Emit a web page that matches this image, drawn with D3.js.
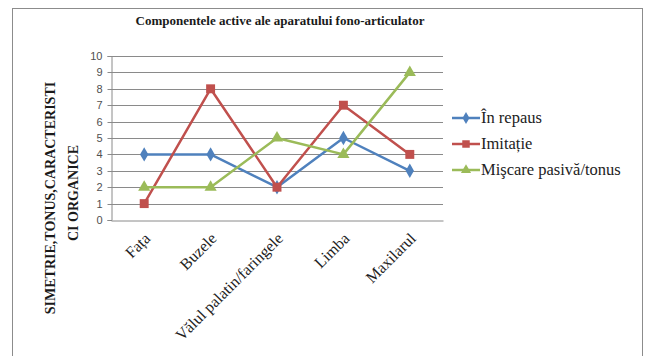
<!DOCTYPE html>
<html>
<head>
<meta charset="utf-8">
<script src="https://cdn.jsdelivr.net/npm/d3@7"></script>
<style>
  html, body { margin: 0; padding: 0; background: #fff; }
  svg { display: block; }
</style>
</head>
<body>
<svg id="chart" width="646" height="356"></svg>
<script>
// Categories (articulatory components) and series scores
const categories = ["Fața", "Buzele", "Vălul palatin/faringele", "Limba", "Maxilarul"];
const seriesNames = ["În repaus", "Imitație", "Mişcare pasivă/tonus"];
const inRepaus = [4, 4, 2, 5, 3];
const imitatie = [1, 8, 2, 7, 4];
const miscarePasiva = [2, 2, 5, 4, 9];
const yTicks = [0, 1, 2, 3, 4, 5, 6, 7, 8, 9, 10];
const seriesColors = ["#4F81BD", "#C0504D", "#9BBB59"];
const seriesSymbols = [d3.symbolDiamond, d3.symbolSquare, d3.symbolTriangle];

const series = [inRepaus, imitatie, miscarePasiva].map((values, i) => ({
  name: seriesNames[i], values, color: seriesColors[i], symbol: seriesSymbols[i]
}));

const svg = d3.select("#chart");
const serif = "'Liberation Serif', 'Times New Roman', serif";
const sans = "'Liberation Sans', Arial, sans-serif";

// outer frame
svg.append("rect")
  .attr("x", 12.5).attr("y", 8.5).attr("width", 630).attr("height", 360)
  .attr("fill", "#fff").attr("stroke", "#8c8c8c").attr("stroke-width", 1);

const plot = { left: 111, top: 56, right: 443, bottom: 220 };

const x = d3.scaleBand().domain(categories).range([plot.left, plot.right]).padding(0);
const y = d3.scaleLinear().domain([0, 10]).range([plot.bottom, plot.top]);

// title
svg.append("text")
  .attr("x", 280).attr("y", 25)
  .attr("text-anchor", "middle")
  .attr("font-family", serif).attr("font-weight", "bold").attr("font-size", 13)
  .attr("fill", "#1a1a1a")
  .text("Componentele active ale aparatului fono-articulator");

// horizontal gridlines
svg.append("g")
  .selectAll("line")
  .data(yTicks.filter(t => t > 0))
  .join("line")
  .attr("x1", plot.left).attr("x2", plot.right)
  .attr("y1", d => Math.round(y(d)) + 0.5).attr("y2", d => Math.round(y(d)) + 0.5)
  .attr("stroke", "#8a8a8a").attr("stroke-width", 1);

// y axis
const yAxis = svg.append("g")
  .attr("transform", `translate(${plot.left + 0.5},0)`)
  .call(d3.axisLeft(y).tickValues(yTicks).tickSize(4).tickPadding(5).tickFormat(d3.format("d")));
yAxis.select(".domain").attr("stroke", "#8a8a8a");
yAxis.selectAll(".tick line").attr("stroke", "#8a8a8a");
yAxis.selectAll(".tick text")
  .attr("font-family", sans).attr("font-size", 11).attr("fill", "#505050");
yAxis.selectAll(".tick").attr("transform", d => `translate(0,${Math.round(y(d)) + 0.5})`);

// x axis
const xAxis = svg.append("g")
  .attr("transform", `translate(0,${plot.bottom + 0.5})`)
  .call(d3.axisBottom(x).tickSize(0).tickPadding(0));
xAxis.select(".domain").attr("stroke", "#8a8a8a");
xAxis.selectAll(".tick text")
  .attr("font-family", serif).attr("font-size", 16).attr("fill", "#222")
  .attr("text-anchor", "end")
  .attr("dy", 0)
  .attr("transform", "translate(7,19) rotate(-45)");

// y axis title (two lines, rotated)
const yTitle = svg.append("text")
  .attr("transform", "translate(0,198) rotate(-90)")
  .attr("text-anchor", "middle")
  .attr("font-family", serif).attr("font-weight", "bold").attr("font-size", 14)
  .attr("fill", "#1a1a1a");
yTitle.append("tspan").attr("x", 0).attr("y", 55).text("SIMETRIE,TONUS,CARACTERISTI");
yTitle.append("tspan").attr("x", 5).attr("y", 78).text("CI ORGANICE");

// lines and markers
const line = d3.line()
  .x((d, i) => x(categories[i]) + x.bandwidth() / 2)
  .y(d => y(d));

const markerSize = [60, 80, 64];

series.forEach((s, si) => {
  svg.append("path")
    .datum(s.values)
    .attr("d", line)
    .attr("fill", "none")
    .attr("stroke", s.color)
    .attr("stroke-width", 2.5)
    .attr("stroke-linejoin", "round");
  svg.append("g")
    .selectAll("path")
    .data(s.values)
    .join("path")
    .attr("transform", (d, i) => `translate(${x(categories[i]) + x.bandwidth() / 2},${y(d)})`)
    .attr("d", d3.symbol().type(s.symbol).size(markerSize[si]))
    .attr("fill", s.color);
});

// legend
const legend = svg.append("g").attr("transform", "translate(452,118)");
series.forEach((s, i) => {
  const g = legend.append("g").attr("transform", `translate(0,${i * 26})`);
  g.append("line").attr("x1", 0).attr("x2", 28).attr("y1", 0).attr("y2", 0)
    .attr("stroke", s.color).attr("stroke-width", 2.5);
  g.append("path").attr("transform", "translate(14,0)")
    .attr("d", d3.symbol().type(s.symbol).size(markerSize[i] * 0.7))
    .attr("fill", s.color);
  g.append("text").attr("x", 29).attr("y", 5)
    .attr("font-family", serif).attr("font-size", 16.5).attr("fill", "#222")
    .text(s.name);
});
</script>
</body>
</html>
